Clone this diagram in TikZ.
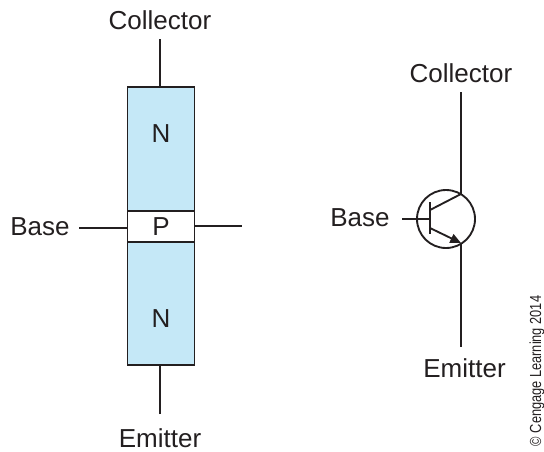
\documentclass[tikz,border=0pt]{standalone}
\usepackage{fontspec}
\setmainfont{Liberation Sans}
\newfontfamily\narrowfont[FakeStretch=0.8]{Liberation Sans}
\usepackage{xcolor}
\usetikzlibrary{arrows.meta,positioning}
\definecolor{LayerBlue}{HTML}{C5E8F7}
\definecolor{LeadBlack}{HTML}{231F20}
\tikzset{
  pxunit/.style={x=0.75pt,y=-0.75pt},
  layerbox/.style={
    draw=LeadBlack,
    line width=1.2pt,
    outer sep=0pt,
    minimum width=50pt,
    inner sep=0pt
  },
  pinlabel/.style={text=LeadBlack, inner sep=0pt, font=\fontsize{19.5}{22}\selectfont},
  lead/.style={draw=LeadBlack, line width=1.1pt},
  symline/.style={draw=LeadBlack, line width=1.4pt}
}

\begin{document}
\begin{tikzpicture}[pxunit]
  \useasboundingbox (0,0) rectangle (544,451);
  % layer stack
  \node[layerbox, fill=LayerBlue, minimum height=93pt] (ntop) at (161,149) {};
  \node[layerbox, fill=white, minimum height=23.25pt, below=0pt of ntop] (player) {};
  \node[layerbox, fill=LayerBlue, minimum height=92.25pt, below=0pt of player] (nbottom) {};
  \node[pinlabel] (ntoptext) at (161,134) {N};
  \node[pinlabel] (ptext) at (161,227) {P};
  \node[pinlabel] (nbottomtext) at (161,319) {N};
  \node[pinlabel] (collectorleft) at (160,20) {Collector};
  \node[pinlabel] (emitterleft) at (160,438) {Emitter};
  \node[pinlabel] (baseleft) at (40,227) {Base};
  \coordinate (collectorend) at (160,39);
  \coordinate (emitterend) at (160,414);
  \coordinate (baseend) at (79,228);
  \coordinate (stubend) at (242,226);
  \draw[lead] (collectorend) -- (collectorend |- ntop.north);
  \draw[lead] (emitterend) -- (emitterend |- nbottom.south);
  \draw[lead] (baseend) -- (baseend -| player.west);
  \draw[lead] (stubend -| player.east) -- (stubend);

  % transistor symbol
  \node[circle, symline, minimum size=43.5pt, inner sep=0pt] (body) at (446,219) {};
  \node[pinlabel] (collectorright) at (461,73) {Collector};
  \node[pinlabel] (emitterright) at (464.5,368) {Emitter};
  \node[pinlabel] (baseright) at (360,218) {Base};
  \coordinate (ctop) at (461,92);
  \coordinate (cjoint) at (461,194);
  \coordinate (ejoint) at (461,243);
  \coordinate (ebottom) at (461,347);
  \coordinate (bleft) at (402,219);
  \coordinate (bbar) at (430,219);
  \coordinate (bartop) at (430,202);
  \coordinate (barbottom) at (430,234);
  \coordinate (cbar) at (430,210);
  \coordinate (ebar) at (430,228);
  \draw[symline] (ctop) -- (cjoint) -- (cbar);
  \draw[symline] (ejoint) -- (ebottom);
  \draw[symline] (bleft) -- (bbar);
  \draw[symline] (bartop) -- (barbottom);
  \draw[symline, -{Triangle[length=8pt,width=7pt]}] (ebar) -- (ejoint);

  \node[rotate=90, text=LeadBlack, inner sep=0pt, font=\narrowfont\fontsize{12}{14}\selectfont] (credit) at (537,371) {© Cengage Learning 2014};
\end{tikzpicture}
\end{document}
